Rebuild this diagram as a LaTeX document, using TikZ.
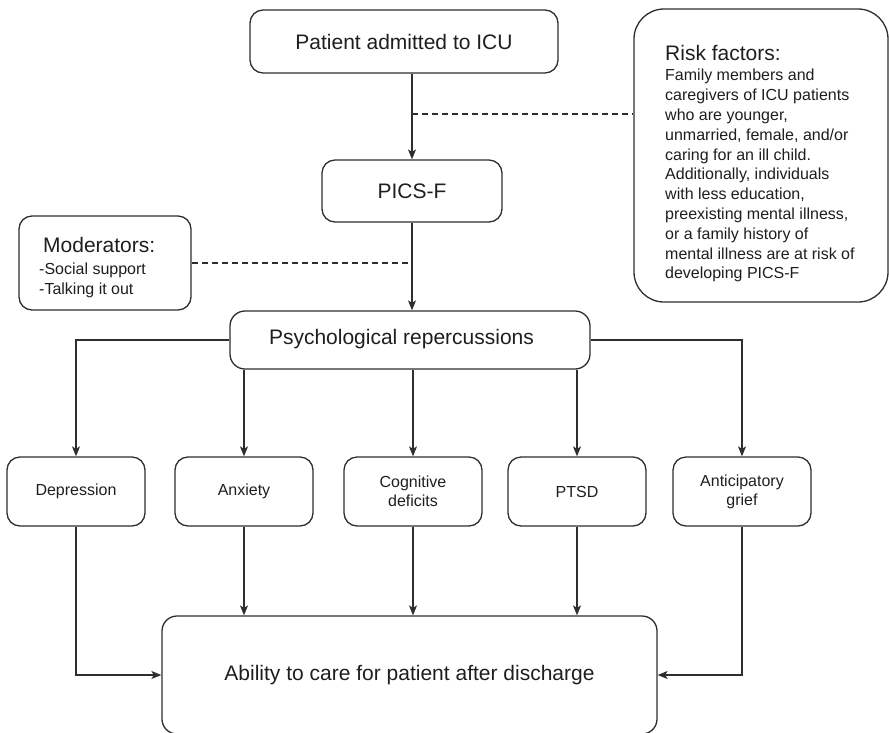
\documentclass[tikz,border=0pt]{standalone}
\usepackage{fontspec}
\setmainfont{Liberation Sans}
\usetikzlibrary{arrows.meta}
\definecolor{ink}{HTML}{2E2E2E}
\definecolor{txt}{HTML}{1E1E1E}
\begin{document}
\begin{tikzpicture}[x=1pt,y=-1pt,
  box/.style={draw=ink, line width=1.3pt, rounded corners=13pt, inner sep=0pt,
    align=center, text=txt, font=\fontsize{16}{19}\selectfont},
  bigbox/.style={box, font=\fontsize{21}{25}\selectfont},
  bigtext/.style={inner sep=0pt, text=txt, font=\fontsize{21}{25}\selectfont},
  smalltext/.style={inner sep=0pt, text=txt, align=left, font=\fontsize{16}{19.8}\selectfont},
  effect/.style={box, minimum width=138pt, minimum height=69pt},
  arr/.style={draw=ink, line width=1.3pt, -{Stealth[length=10pt,width=8pt,inset=2.5pt]}},
  link/.style={draw=ink, line width=1.3pt},
  dashline/.style={draw=ink, line width=1.1pt, dash pattern=on 6pt off 4pt}]
\useasboundingbox (0,0) rectangle (889,732);
\begin{scope}
\clip (0,0) rectangle (889,732);

% main chain
\node[bigbox, minimum width=308pt, minimum height=63pt] (adm) at (404,41.5) {Patient admitted to ICU};
\node[bigbox, minimum width=180pt, minimum height=62pt] (pics) at (412,191) {PICS-F};
\node[box, rounded corners=15pt, minimum width=360pt, minimum height=58pt] (psych) at (410,340) {};
\node[bigtext] (psychlabel) at (401.5,339) {Psychological repercussions};

% risk factors
\node[box, rounded corners=30pt, minimum width=254pt, minimum height=293pt] (risk) at (761,155.5) {};
\node[bigtext, anchor=west] (risktitle) at (665,53) {Risk factors:};
\node[smalltext, anchor=north west] (riskbody) at (665,69) {Family members and\\caregivers of ICU patients\\who are younger,\\unmarried, female, and/or\\caring for an ill child.\\Additionally, individuals\\with less education,\\preexisting mental illness,\\or a family history of\\mental illness are at risk of\\developing PICS-F};

% moderators
\node[box, minimum width=172pt, minimum height=94pt] (mod) at (105,263) {};
\node[bigtext, anchor=west] (modtitle) at (43,245) {Moderators:};
\node[smalltext, anchor=north west] (modbody) at (39,263) {-Social support\\-Talking it out};

% outcomes
\node[effect] (dep) at (76,491.5) {Depression};
\node[effect] (anx) at (244,491.5) {Anxiety};
\node[effect] (cog) at (413,491.5) {Cognitive\\deficits};
\node[effect] (ptsd) at (577,491.5) {PTSD};
\node[effect] (ant) at (742,491.5) {Anticipatory\\grief};

\node[bigbox, rounded corners=15pt, minimum width=495pt, minimum height=118pt] (abil) at (409.5,675) {Ability to care for patient after discharge};

% junctions for the dashed influences
\coordinate (j1) at (pics.north |- 0,114);
\coordinate (j2) at (pics.north |- mod.east);

% connectors
\draw[arr] (pics.north |- adm.south) -- (pics.north);
\draw[dashline] (j1) -- (j1 -| risk.west);
\draw[arr] (pics.south) -- (pics.south |- psych.north);
\draw[dashline] (mod.east) -- (j2);

\draw[arr] (psych.west) -| (dep.north);
\draw[arr] (psych.east) -| (ant.north);
\draw[arr] (anx.north |- psych.south) -- (anx.north);
\draw[arr] (cog.north |- psych.south) -- (cog.north);
\draw[arr] (ptsd.north |- psych.south) -- (ptsd.north);

\draw[arr] (dep.south) |- (abil.west);
\draw[arr] (ant.south) |- (abil.east);
\draw[arr] (anx.south) -- (anx.south |- abil.north);
\draw[arr] (cog.south) -- (cog.south |- abil.north);
\draw[arr] (ptsd.south) -- (ptsd.south |- abil.north);
\end{scope}
\end{tikzpicture}
\end{document}
